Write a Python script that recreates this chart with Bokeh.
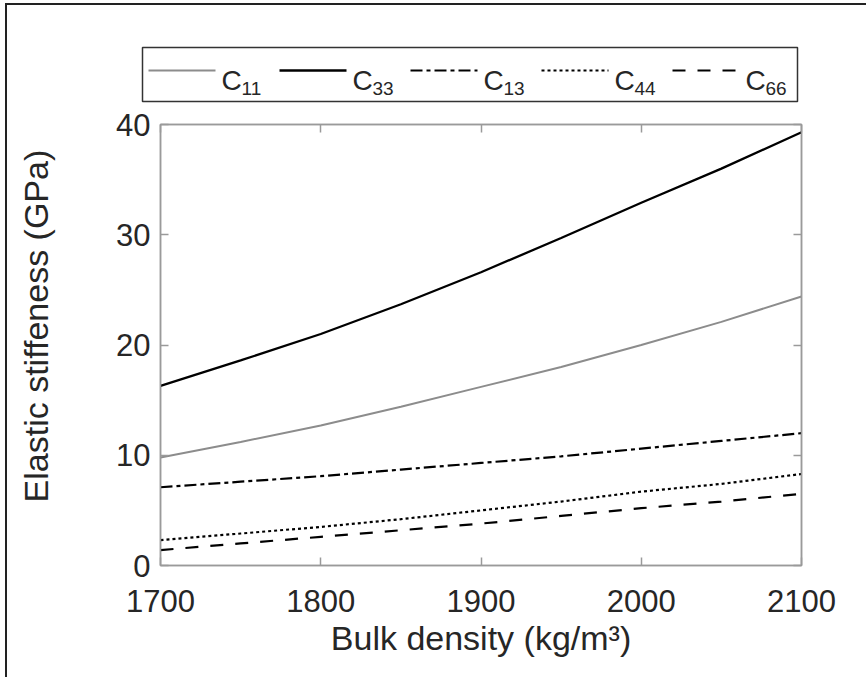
from bokeh.plotting import figure
from bokeh.layouts import column
from bokeh.models import Range1d, LinearAxis, FixedTicker
from bokeh.core.properties import value
from bokeh.embed import file_html
from bokeh.resources import INLINE

# ---- data ----
density = [1700, 1750, 1800, 1850, 1900, 1950, 2000, 2050, 2100]
c11 = [9.8, 11.2, 12.7, 14.4, 16.2, 18.0, 20.0, 22.1, 24.4]
c33 = [16.3, 18.6, 21.0, 23.7, 26.6, 29.7, 32.9, 36.0, 39.3]
c13 = [7.1, 7.6, 8.1, 8.7, 9.3, 9.9, 10.6, 11.3, 12.0]
c44 = [2.3, 2.9, 3.5, 4.2, 5.0, 5.8, 6.7, 7.4, 8.3]
c66 = [1.4, 2.0, 2.6, 3.2, 3.8, 4.5, 5.2, 5.8, 6.5]
series_base = "C"
series_subs = ["11", "33", "13", "44", "66"]
x_ticks = [1700, 1800, 1900, 2000, 2100]
y_ticks = [0, 10, 20, 30, 40]

FONT = "Liberation Sans"
TXT = "#262626"
AX = "#9a9a9a"

styles = [
    dict(line_color="#8c8c8c", line_width=2),
    dict(line_color="black", line_width=2.3),
    dict(line_color="black", line_width=2.2, line_dash="12 4 4 4"),
    dict(line_color="black", line_width=2.2, line_dash="3 3"),
    dict(line_color="black", line_width=2.2, line_dash="13 12"),
]

W = 859
LEG_H = 98
BL, BR = 153, 65

# ---------------- main plot ----------------
p = figure(width=W, height=574, output_backend="svg", toolbar_location=None,
           x_range=Range1d(1700, 2100), y_range=Range1d(0, 40),
           min_border_left=BL, min_border_right=BR, min_border_top=21,
           min_border_bottom=112)
p.background_fill_color = "white"
p.border_fill_color = "white"
p.grid.visible = False
p.outline_line_color = AX
p.outline_line_width = 1.5

for ax in (p.xaxis[0], p.yaxis[0]):
    ax.axis_line_color = AX
    ax.axis_line_width = 1.5
    ax.major_tick_line_color = AX
    ax.major_tick_line_width = 1.5
    ax.major_tick_in = 8
    ax.major_tick_out = 0
    ax.minor_tick_line_color = None
    ax.major_label_text_font = FONT
    ax.major_label_text_font_size = "31px"
    ax.major_label_text_color = TXT
    ax.axis_label_text_font = FONT
    ax.axis_label_text_font_size = "34px"
    ax.axis_label_text_font_style = "normal"
    ax.axis_label_text_color = TXT

p.xaxis[0].ticker = FixedTicker(ticks=x_ticks)
p.yaxis[0].ticker = FixedTicker(ticks=y_ticks)
p.xaxis[0].axis_label = "Bulk density (kg/m\u00b3)"
p.yaxis[0].axis_label = "\u00a0\u00a0\u00a0\u00a0Elastic stiffeness (GPa)"
p.xaxis[0].major_label_standoff = 24
p.yaxis[0].major_label_standoff = 10
p.xaxis[0].axis_label_standoff = 4
p.yaxis[0].axis_label_standoff = 58

for loc, ticks in (("right", y_ticks), ("above", x_ticks)):
    a = LinearAxis(ticker=FixedTicker(ticks=ticks))
    a.axis_line_color = AX
    a.axis_line_width = 1.5
    a.major_tick_line_color = AX
    a.major_tick_line_width = 1.5
    a.major_tick_in = 8
    a.major_tick_out = 0
    a.minor_tick_line_color = None
    a.major_label_text_color = None
    a.major_label_text_font_size = "1px"
    a.major_label_standoff = 0
    p.add_layout(a, loc)

for ys, st in zip([c11, c33, c13, c44, c66], styles):
    p.line(density, ys, **st)

# ---------------- legend strip (layout in pixels, full-width frame) ----------------
lg = figure(width=W, height=LEG_H, output_backend="svg", toolbar_location=None,
            x_range=Range1d(0, W), y_range=Range1d(LEG_H, 0),
            min_border_left=0, min_border_right=0, min_border_top=0,
            min_border_bottom=0, outline_line_color=None,
            x_axis_location=None, y_axis_location=None)
lg.grid.visible = False
lg.background_fill_color = "white"
lg.border_fill_color = "white"

for fig in (lg, p):
    if "frame_align" in fig.properties():
        fig.frame_align = False

box_l, box_r, box_t, box_b = 135, 790, 42, 96
lg.quad(left=[box_l], right=[box_r], top=[box_t], bottom=[box_b],
        fill_color="white", line_color="#333333", line_width=1.5)

item_x0 = 141
item_step = 131
key_len = 67
key_y = 65
for i, st in enumerate(styles):
    x0 = item_x0 + i * item_step
    lg.line([x0, x0 + key_len], [key_y, key_y], **st)
    lg.text(x=[x0 + key_len + 6], y=[75], text=[series_base],
            text_font=value(FONT), text_font_size="28px", text_color=TXT,
            text_baseline="alphabetic", text_align="left")
    lg.text(x=[x0 + key_len + 6 + 20], y=[83], text=[series_subs[i]],
            text_font=value(FONT), text_font_size="19px", text_color=TXT,
            text_baseline="alphabetic", text_align="left")

layout = column(lg, p, spacing=0)
layout.margin = (3, 0, 0, 5)
layout.styles = {"border-top": "2px solid #222", "border-left": "2px solid #222"}

open("out.html", "w").write(file_html(layout, INLINE))
